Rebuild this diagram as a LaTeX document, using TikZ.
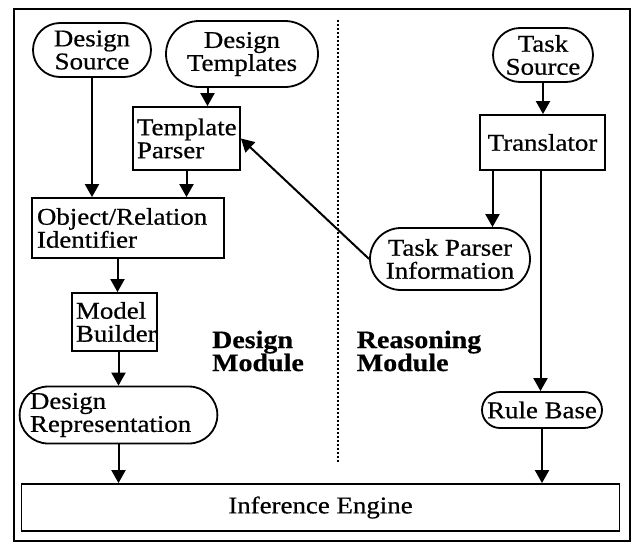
\documentclass[tikz,border=0pt]{standalone}
\usepackage{fontspec}
\setmainfont{Liberation Serif}[FakeStretch=1.12,FakeBold=0.6]
\usetikzlibrary{shapes.misc,arrows.meta,calc}
\tikzset{
  box/.style={draw,line width=1.8pt,rectangle,inner sep=0pt,font=\fontsize{24}{23}\selectfont},
  pill/.style={draw,line width=1.8pt,rounded rectangle,inner sep=0pt,font=\fontsize{24}{23}\selectfont,align=center},
  lbl/.style={font=\fontsize{25}{23}\selectfont\bfseries,align=left,inner sep=0pt},
  arr/.style={line width=2pt,-{Triangle[length=13pt,width=14pt]}},
  ln/.style={line width=2pt}
}
\begin{document}
\begin{tikzpicture}[x=1pt,y=-1pt]
\useasboundingbox (0,0) rectangle (635,544);
\draw[line width=2pt] (14,9) rectangle (630,541);
\draw[line width=2pt,dotted] (338,20) -- (338,462);
% design side
\node[pill,minimum width=118pt,minimum height=54pt] (dsrc) at (92,50) {Design\\Source};
\node[pill,minimum width=152pt,minimum height=66pt] (dtpl) at (242,54) {Design\\Templates};
\node[box,minimum width=107pt,minimum height=63pt,text width=99pt,align=left] (tparser) at (186.5,138.5) {Template\\Parser};
\node[box,minimum width=192pt,minimum height=60pt,text width=182pt,align=left] (orid) at (128,228) {Object/Relation\\Identifier};
\node[box,minimum width=85pt,minimum height=58pt,text width=77pt,align=left] (mb) at (114.5,322) {Model\\Builder};
\node[pill,minimum width=187pt,minimum height=57pt,text width=177pt,align=left] (drep) at (118.5,415) {Design\\Representation};
\node[box,minimum width=598pt,minimum height=47pt,align=center] (inf) at (320.5,507.5) {Inference Engine};
\node[lbl] (dm) at (258,351) {Design\\Module};
% reasoning side
\node[pill,minimum width=100pt,minimum height=54pt] (tsrc) at (543,55) {Task\\Source};
\node[box,minimum width=125pt,minimum height=55pt] (trans) at (542.5,142.5) {Translator};
\node[pill,minimum width=160pt,minimum height=62pt] (tpi) at (450,259) {Task Parser\\Information};
\node[pill,minimum width=120pt,minimum height=36pt] (rb) at (542,410) {Rule Base};
\node[lbl] (rm) at (419,351) {Reasoning\\Module};
% helper coordinates
\coordinate (ctp) at ($(tparser.north)+(21,0)$);
\coordinate (cmb) at ($(mb.north)+(3,0)$);
\coordinate (ctr1) at ($(trans.south)+(-50,0)$);
\coordinate (ctr2) at ($(trans.south)+(-2,0)$);
% connectors
\draw[arr] (dsrc.south) -- (dsrc.south |- orid.north);
\draw[arr] (ctp |- dtpl.south) -- (ctp);
\draw[arr] (tparser.south) -- (tparser.south |- orid.north);
\draw[arr] (cmb |- orid.south) -- (cmb);
\draw[arr] (mb.south -| drep.north) -- (drep.north);
\draw[arr] (drep.south) -- (drep.south |- inf.north);
\draw[arr] (tsrc.south) -- (tsrc.south |- trans.north);
\draw[arr] (ctr1) -- (ctr1 |- tpi.north);
\draw[arr] (ctr2) -- (ctr2 |- rb.north);
\draw[arr] (rb.south) -- (rb.south |- inf.north);
\draw[arr] (tpi.west) -- (tparser.east);
\end{tikzpicture}
\end{document}
